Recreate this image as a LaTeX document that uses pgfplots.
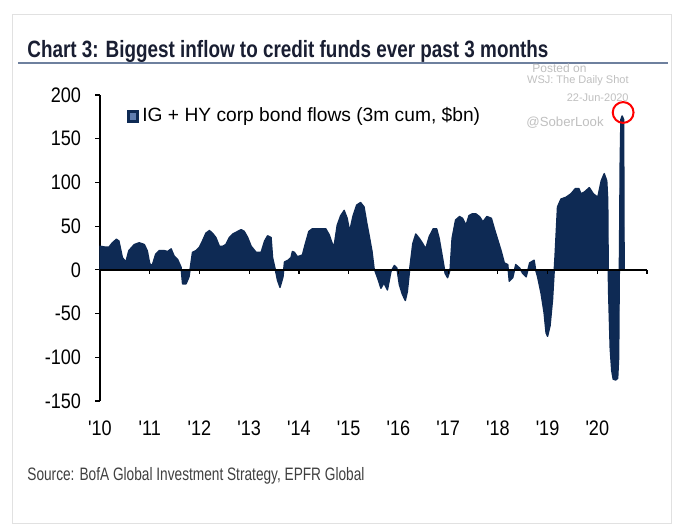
\documentclass[border=0pt]{standalone}
\usepackage{pgfplots}
\pgfplotsset{compat=1.18}
\usepackage{fontspec}
\setmainfont{Liberation Sans}
\newfontfamily\tickfont{Liberation Sans}[FakeStretch=0.86]
\newfontfamily\condfont{Liberation Sans}[FakeStretch=0.8]
\newfontfamily\srcfont{Liberation Sans}[FakeStretch=0.76]
\definecolor{navy}{RGB}{14,42,84}
\definecolor{navylight}{RGB}{95,125,175}
\definecolor{titlecol}{RGB}{25,30,50}
\definecolor{rulecol}{RGB}{110,128,158}
\definecolor{wmark}{RGB}{192,192,192}
\definecolor{framecol}{RGB}{225,225,225}
\begin{document}
\begin{tikzpicture}
\useasboundingbox (0,0) rectangle (344pt,264pt);
\fill[white] (0,0) rectangle (344pt,264pt);
\draw[framecol, line width=0.5pt] (6pt,2pt) rectangle (335.5pt,256.5pt);
% title
\node[anchor=base west, inner sep=0pt, text=titlecol] at (13.5pt,235pt)
  {\condfont\bfseries\fontsize{11.8}{13}\selectfont Chart 3: Biggest inflow to credit funds ever past 3 months};
\draw[rulecol, line width=1pt] (9pt,232.5pt) -- (334pt,232.5pt);
% source
\node[anchor=base west, inner sep=0pt, text=black!75] at (13.5pt,23.5pt)
  {\srcfont\fontsize{9}{11}\selectfont Source: BofA Global Investment Strategy, EPFR Global};
% watermark
\node[anchor=west, inner sep=0pt, text=wmark] at (266pt,230pt) {\fontsize{6}{7}\selectfont Posted on};
\node[anchor=east, inner sep=0pt, text=wmark] at (314.5pt,223.5pt) {\fontsize{5.5}{7}\selectfont WSJ: The Daily Shot};
\node[anchor=east, inner sep=0pt, text=wmark] at (314.5pt,215pt) {\fontsize{5.5}{7}\selectfont 22-Jun-2020};
\node[anchor=west, inner sep=0pt, text=wmark] at (263pt,202.5pt) {\fontsize{6.6}{8}\selectfont @SoberLook};
% legend
\fill[navy] (63.5pt,202.5pt) rectangle (69.5pt,209pt);
\fill[navylight] (65pt,204pt) rectangle (68pt,207.5pt);
\node[anchor=west, inner sep=0pt] at (71pt,205.75pt) {\fontsize{9.6}{11}\selectfont IG + HY corp bond flows (3m cum, \$bn)};
\begin{axis}[
  at={(50pt,63.5pt)}, anchor=south west,
  scale only axis, width=273.5pt, height=153pt,
  xmin=2010, xmax=2021, ymin=-150, ymax=200,
  axis x line*=bottom, axis y line*=left,
  x axis line style={draw=none},
  y axis line style={black, line width=0.6pt},
  xtick={2010,2011,2012,2013,2014,2015,2016,2017,2018,2019,2020},
  xticklabels={'10,'11,'12,'13,'14,'15,'16,'17,'18,'19,'20},
  xtick style={draw=none},
  ytick={-150,-100,-50,0,50,100,150,200},
  ytick style={black, line width=0.6pt},
  tick align=outside,
  major tick length=2.5pt,
  /pgf/number format/assume math mode=true,
  ticklabel style={font=\tickfont\fontsize{10.5}{12}\selectfont},
  yticklabel style={xshift=-3.5pt},
  xticklabel style={yshift=-4pt},
  clip=false,
]
\addplot[fill=navy, draw=navy, line width=0.7pt, line join=round] table {
x y
2010.00 0
2010.00 27
2010.11 26
2010.18 26
2010.25 31
2010.33 35
2010.38 33
2010.45 14
2010.52 9
2010.58 22
2010.69 29
2010.79 31
2010.89 29
2010.95 22
2011.00 7
2011.05 5
2011.12 18
2011.19 22
2011.29 22
2011.36 21
2011.43 24
2011.49 16
2011.56 12
2011.63 3
2011.66 -16
2011.73 -16
2011.79 -8
2011.86 20
2011.93 22
2012.00 26
2012.06 33
2012.13 42
2012.20 45
2012.26 42
2012.33 37
2012.40 27
2012.47 27
2012.53 29
2012.60 37
2012.67 41
2012.77 44
2012.84 46
2012.90 44
2012.97 37
2013.04 27
2013.14 20
2013.24 20
2013.31 33
2013.37 39
2013.44 37
2013.47 14
2013.53 -1
2013.57 -12
2013.62 -20
2013.68 -8
2013.71 9
2013.78 11
2013.84 14
2013.87 21
2013.91 20
2013.97 15
2014.07 17
2014.13 30
2014.20 44
2014.27 47
2014.40 47
2014.54 47
2014.61 40
2014.67 30
2014.71 28
2014.77 51
2014.84 62
2014.91 68
2014.97 59
2015.02 44
2015.09 62
2015.16 74
2015.24 77
2015.31 72
2015.36 55
2015.41 40
2015.47 21
2015.51 2
2015.58 -9
2015.65 -21
2015.71 -15
2015.78 -23
2015.85 -2
2015.92 5
2015.97 2
2016.02 -17
2016.08 -28
2016.14 -35
2016.18 -25
2016.23 2
2016.29 30
2016.35 41
2016.42 36
2016.49 30
2016.55 24
2016.62 38
2016.70 47
2016.77 47
2016.82 36
2016.89 13
2016.94 -4
2016.99 -9
2017.04 0
2017.08 36
2017.15 57
2017.23 61
2017.29 59
2017.36 51
2017.42 62
2017.48 64
2017.56 64
2017.63 61
2017.70 55
2017.78 61
2017.87 59
2017.93 47
2018.00 34
2018.07 21
2018.13 8
2018.20 6
2018.23 -13
2018.30 -9
2018.36 6
2018.44 2
2018.50 -4
2018.57 -8
2018.64 8
2018.73 11
2018.76 0
2018.80 -8
2018.87 -27
2018.93 -49
2018.97 -72
2019.00 -76
2019.05 -64
2019.10 -34
2019.15 15
2019.20 72
2019.27 81
2019.37 83
2019.47 87
2019.56 93
2019.63 93
2019.67 87
2019.74 89
2019.84 94
2019.92 87
2020.01 83
2020.08 102
2020.14 110
2020.19 102
2020.21 80
2020.22 0
2020.23 -30
2020.26 -90
2020.29 -115
2020.32 -125
2020.37 -126
2020.41 -124
2020.43 -100
2020.44 -20
2020.45 40
2020.46 120
2020.475 172
2020.50 176
2020.53 172
2020.54 0
};
\draw[black, line width=1.1pt] (axis cs:2010,0) -- (axis cs:2021,0);
\draw[black, line width=0.6pt] (axis cs:2011,0) -- (axis cs:2011,-5);
\draw[black, line width=0.6pt] (axis cs:2012,0) -- (axis cs:2012,-5);
\draw[black, line width=0.6pt] (axis cs:2013,0) -- (axis cs:2013,-5);
\draw[black, line width=0.6pt] (axis cs:2014,0) -- (axis cs:2014,-5);
\draw[black, line width=0.6pt] (axis cs:2015,0) -- (axis cs:2015,-5);
\draw[black, line width=0.6pt] (axis cs:2016,0) -- (axis cs:2016,-5);
\draw[black, line width=0.6pt] (axis cs:2017,0) -- (axis cs:2017,-5);
\draw[black, line width=0.6pt] (axis cs:2018,0) -- (axis cs:2018,-5);
\draw[black, line width=0.6pt] (axis cs:2019,0) -- (axis cs:2019,-5);
\draw[black, line width=0.6pt] (axis cs:2020,0) -- (axis cs:2020,-5);
\draw[black, line width=0.6pt] (axis cs:2021,0) -- (axis cs:2021,-5);
\draw[red, line width=1pt] (axis cs:2020.52,180) circle[radius=5.2pt];
\end{axis}
\end{tikzpicture}
\end{document}
